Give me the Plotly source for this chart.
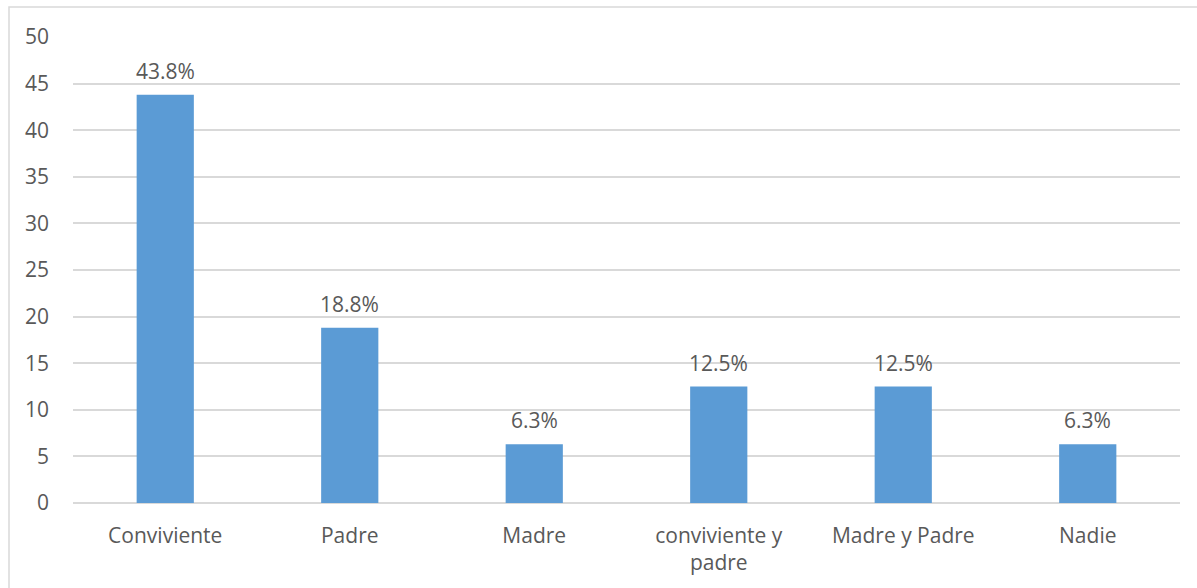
import plotly.graph_objects as go

# Data
categories = ["Conviviente", "Padre", "Madre", "conviviente y<br>padre", "Madre y Padre", "Nadie"]
values = [43.8, 18.8, 6.3, 12.5, 12.5, 6.3]
y_ticks = [0, 5, 10, 15, 20, 25, 30, 35, 40, 45, 50]

BAR_COLOR = "#5B9BD5"
TEXT_COLOR = "#595959"
GRID_COLOR = "#D9D9D9"
FONT = "Open Sans"
FSIZE = 21

W, H = 1197, 588
M = dict(l=73, r=17, t=37, b=85)
pw = W - M["l"] - M["r"]
ph = H - M["t"] - M["b"]

fig = go.Figure(go.Bar(
    x=categories,
    y=values,
    marker_color=BAR_COLOR,
    marker_line_width=0,
    hoverinfo="x+y",
))

# data labels above the bars
for cat, val in zip(categories, values):
    fig.add_annotation(
        x=cat, y=val, text=f"{val:.1f}%",
        showarrow=False, yanchor="bottom", yshift=8,
        font=dict(family=FONT, size=FSIZE, color=TEXT_COLOR),
    )

# chart border
fig.add_shape(
    type="rect", xref="paper", yref="paper",
    x0=(9 - M["l"]) / pw, x1=1 + (M["r"] + 5) / pw,
    y0=-(M["b"] + 5) / ph, y1=1 + (M["t"] - 7) / ph,
    line=dict(color=GRID_COLOR, width=1.5),
)

fig.update_layout(
    width=W, height=H,
    margin=M,
    paper_bgcolor="white",
    plot_bgcolor="white",
    showlegend=False,
    bargap=0.69,
    font=dict(family=FONT, size=FSIZE, color=TEXT_COLOR),
    xaxis=dict(
        showgrid=False, showline=False, zeroline=False,
        ticks="", ticklabelstandoff=18,
        tickfont=dict(family=FONT, size=FSIZE, color=TEXT_COLOR),
    ),
    yaxis=dict(
        range=[0, 50], tickvals=y_ticks,
        showgrid=True, gridcolor=GRID_COLOR, gridwidth=1.5,
        zeroline=True, zerolinecolor=GRID_COLOR, zerolinewidth=1.5,
        showline=False, ticks="", ticklabelstandoff=23,
        tickfont=dict(family=FONT, size=FSIZE, color=TEXT_COLOR),
    ),
)

fig.write_html(
    "out.html",
    config={"displayModeBar": False},
    post_script="document.body.style.margin='0px';",
)
